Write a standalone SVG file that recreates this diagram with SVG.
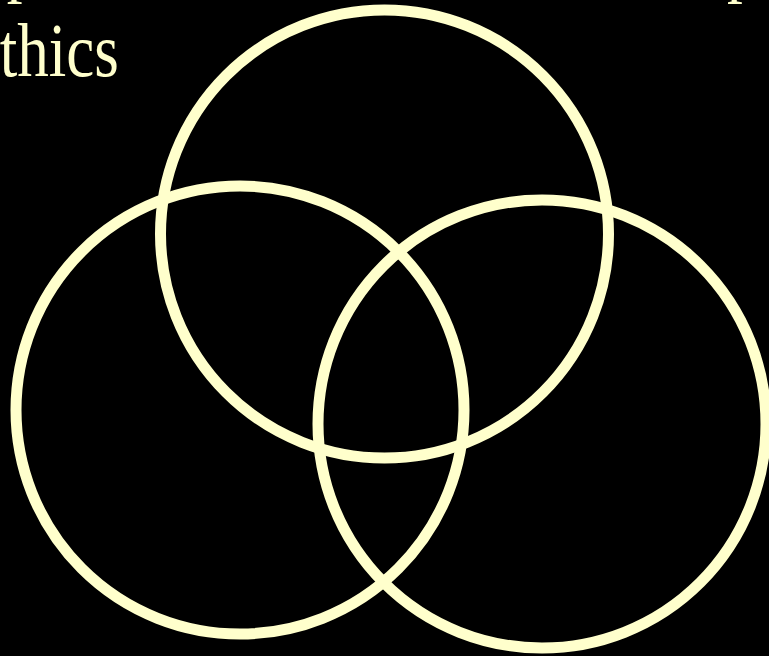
<svg xmlns="http://www.w3.org/2000/svg" width="769" height="656" viewBox="0 0 769 656">
<style>
.ring{fill:none;stroke:#FFFFCC;stroke-width:11}
.t{font-family:"Liberation Serif","Times New Roman",serif;fill:#FFFFCC;font-size:76px}
</style>
<rect width="769" height="656" fill="#000"/>
<g id="title" transform="scale(0.83,1)">
<text class="t" x="8" y="-12">p</text>
<text class="t" x="876" y="-12">p</text>
<text class="t" x="-34" y="76">ethics</text>
</g>
<g id="circle-top"><circle class="ring" cx="384.5" cy="234" r="224"/></g>
<g id="circle-left"><circle class="ring" cx="240" cy="410" r="224"/></g>
<g id="circle-right"><circle class="ring" cx="542" cy="424" r="224"/></g>
<g id="connectors"></g>
</svg>
